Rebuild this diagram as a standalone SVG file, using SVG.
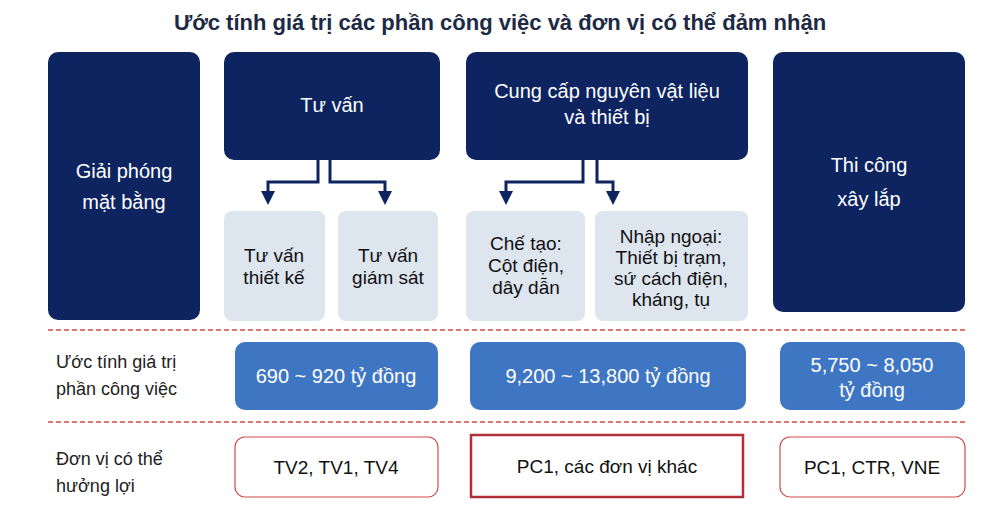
<svg xmlns="http://www.w3.org/2000/svg" width="1000" height="521" viewBox="0 0 1000 521">
<defs>
<style>
text{font-family:"Liberation Sans",Arial,sans-serif;text-anchor:middle}
.dk{fill:#0d2460}
.lt{fill:#dde5ef}
.md{fill:#3f76c4}
.wb{fill:#fff;stroke:#d44a4a;stroke-width:1.2}
.wt{fill:#fff;font-size:20px}
.bt{fill:#111;font-size:19px}
.lab{fill:#222;font-size:18px;text-anchor:start}
.cn{fill:none;stroke:#0d2460;stroke-width:3}
.dash{stroke:#d44a4a;stroke-width:1.5;stroke-dasharray:5 3}
</style>
</defs>
<rect width="1000" height="521" fill="#fff"/>
<text x="500" y="30" font-size="22" font-weight="bold" fill="#1e2a44">Ước tính giá trị các phần công việc và đơn vị có thể đảm nhận</text>
<g id="gpmb"><rect x="48" y="52" width="152" height="268" rx="10" class="dk"/><text x="124" y="178" class="wt">Giải phóng</text><text x="124" y="209" class="wt">mặt bằng</text></g>
<g id="tuvan"><rect x="224" y="52" width="216" height="108" rx="10" class="dk"/><text x="332" y="112" class="wt">Tư vấn</text></g>
<g id="cungcap"><rect x="466" y="52" width="282" height="108" rx="10" class="dk"/><text x="607" y="98" class="wt">Cung cấp nguyên vật liệu</text><text x="607" y="124" class="wt">và thiết bị</text></g>
<g id="thicong"><rect x="773" y="52" width="192" height="260" rx="10" class="dk"/><text x="869" y="172" class="wt">Thi công</text><text x="869" y="206" class="wt">xây lắp</text></g>
<g id="tvtk"><rect x="224" y="211" width="101" height="110" rx="8" class="lt"/><text x="274" y="262" class="bt">Tư vấn</text><text x="274" y="284" class="bt">thiết kế</text></g>
<g id="tvgs"><rect x="338" y="211" width="100" height="110" rx="8" class="lt"/><text x="388" y="262" class="bt">Tư vấn</text><text x="388" y="284" class="bt">giám sát</text></g>
<g id="chetao"><rect x="466" y="211" width="119" height="110" rx="8" class="lt"/><text x="526" y="250" class="bt">Chế tạo:</text><text x="526" y="272" class="bt">Cột điện,</text><text x="526" y="294" class="bt">dây dẫn</text></g>
<g id="nhap"><rect x="595" y="211" width="153" height="110" rx="8" class="lt"/><text x="671" y="243" class="bt">Nhập ngoại:</text><text x="671" y="264" class="bt">Thiết bị trạm,</text><text x="671" y="285" class="bt">sứ cách điện,</text><text x="671" y="306" class="bt">kháng, tụ</text></g>
<g id="connectors" fill="#0d2460">
<path class="cn" d="M318,160 V182 H268 V192"/><path d="M261,191 H275 L268,205Z"/>
<path class="cn" d="M330,160 V182 H385 V192"/><path d="M378,191 H392 L385,205Z"/>
<path class="cn" d="M583,160 V182 H506 V192"/><path d="M499,191 H513 L506,205Z"/>
<path class="cn" d="M597,160 V182 H613 V192"/><path d="M606,191 H620 L613,205Z"/>
</g>
<line x1="48" y1="330" x2="965" y2="330" class="dash"/>
<line x1="48" y1="422" x2="965" y2="422" class="dash"/>
<text x="56" y="368" class="lab">Ước tính giá trị</text>
<text x="56" y="395" class="lab">phần công việc</text>
<text x="56" y="465" class="lab">Đơn vị có thể</text>
<text x="56" y="492" class="lab">hưởng lợi</text>
<g id="v1"><rect x="235" y="342" width="203" height="68" rx="10" class="md"/><text x="336" y="383" class="wt" font-size="19">690 ~ 920 tỷ đồng</text></g>
<g id="v2"><rect x="470" y="342" width="276" height="68" rx="10" class="md"/><text x="608" y="383" class="wt" font-size="19">9,200 ~ 13,800 tỷ đồng</text></g>
<g id="v3"><rect x="780" y="342" width="185" height="68" rx="10" class="md"/><text x="872" y="372" class="wt" font-size="19">5,750 ~ 8,050</text><text x="872" y="397" class="wt" font-size="19">tỷ đồng</text></g>
<g id="u1"><rect x="235" y="437" width="203" height="60" rx="10" class="wb"/><text x="336" y="474" class="bt">TV2, TV1, TV4</text></g>
<g id="u2"><rect x="471" y="435" width="272" height="62" class="wb" stroke="#b0303a" stroke-width="2.5" style="stroke:#b0303a;stroke-width:2.5"/><text x="607" y="473" class="bt">PC1, các đơn vị khác</text></g>
<g id="u3"><rect x="780" y="437" width="185" height="60" rx="10" class="wb"/><text x="872" y="474" class="bt">PC1, CTR, VNE</text></g>
</svg>
